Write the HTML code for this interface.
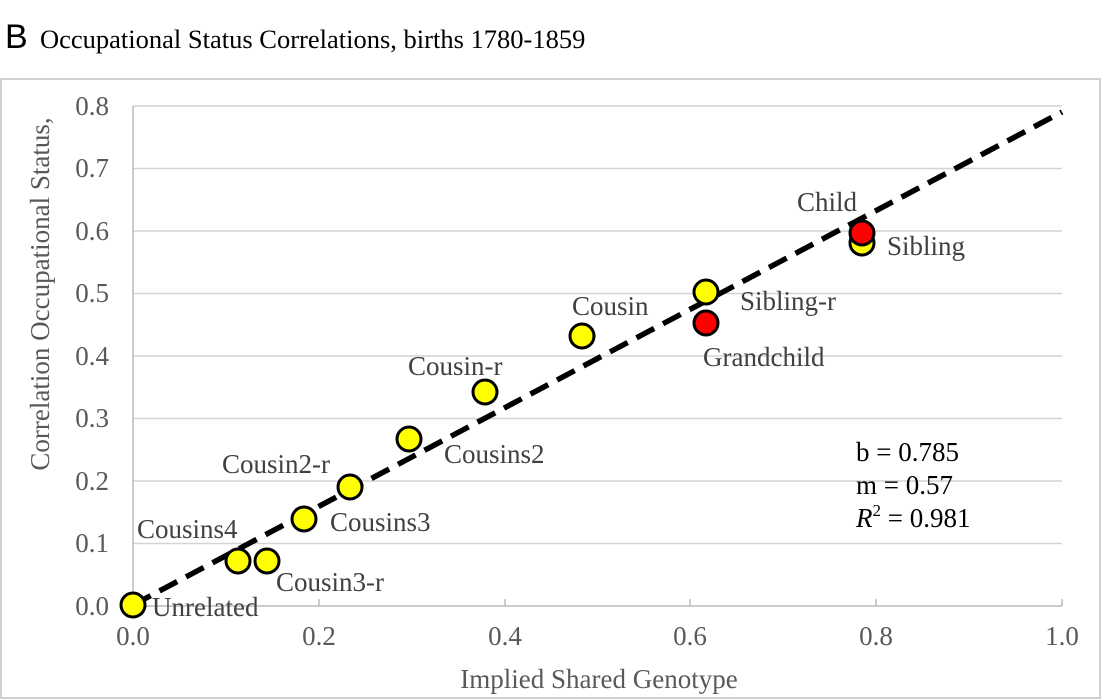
<!DOCTYPE html>
<html><head><meta charset="utf-8"><style>
body{margin:0;background:#fff;}
svg{display:block}
</style></head><body>
<svg width="1104" height="700" xmlns="http://www.w3.org/2000/svg">
<rect width="1104" height="700" fill="#fff"/>
<text x="5" y="48" font-family="Liberation Sans, sans-serif" font-size="34" fill="#000">B</text>
<text x="40" y="48" font-family="Liberation Serif, serif" font-size="26.5" fill="#000">Occupational Status Correlations, births 1780-1859</text>
<rect x="1" y="79" width="1099" height="619" fill="none" stroke="#d0d0d0" stroke-width="2"/>
<g stroke="#d4d4d4" stroke-width="1.5">
<line x1="133" y1="106" x2="1062" y2="106"/>
<line x1="133" y1="168.5" x2="1062" y2="168.5"/>
<line x1="133" y1="231" x2="1062" y2="231"/>
<line x1="133" y1="293.5" x2="1062" y2="293.5"/>
<line x1="133" y1="356" x2="1062" y2="356"/>
<line x1="133" y1="418.5" x2="1062" y2="418.5"/>
<line x1="133" y1="481" x2="1062" y2="481"/>
<line x1="133" y1="543.5" x2="1062" y2="543.5"/>
</g>
<g stroke="#bbb" stroke-width="1.5">
<line x1="133" y1="106" x2="133" y2="606"/>
<line x1="133" y1="606" x2="1062" y2="606"/>
<line x1="319" y1="606" x2="319" y2="599"/>
<line x1="505" y1="606" x2="505" y2="599"/>
<line x1="690" y1="606" x2="690" y2="599"/>
<line x1="876" y1="606" x2="876" y2="599"/>
<line x1="1062" y1="606" x2="1062" y2="599"/>
</g>
<g font-family="Liberation Serif, serif" font-size="27" fill="#595959" text-anchor="end">
<text x="109" y="115">0.8</text><text x="109" y="177">0.7</text><text x="109" y="240">0.6</text>
<text x="109" y="302">0.5</text><text x="109" y="365">0.4</text><text x="109" y="427">0.3</text>
<text x="109" y="490">0.2</text><text x="109" y="552">0.1</text><text x="109" y="615">0.0</text>
</g>
<g font-family="Liberation Serif, serif" font-size="27" fill="#595959" text-anchor="middle">
<text x="133" y="645">0.0</text><text x="319" y="645">0.2</text><text x="505" y="645">0.4</text>
<text x="690" y="645">0.6</text><text x="876" y="645">0.8</text><text x="1062" y="645">1.0</text>
<text x="599" y="688">Implied Shared Genotype</text>
<text transform="translate(49,294) rotate(-90)">Correlation Occupational Status,</text>
</g>
<line x1="133" y1="605" x2="1062" y2="112" stroke="#000" stroke-width="5.5" stroke-dasharray="20,10"/>
<g stroke="#000" stroke-width="3">
<circle cx="133" cy="605" r="12" fill="#ffff00"/>
<circle cx="238" cy="561" r="12" fill="#ffff00"/>
<circle cx="267" cy="561" r="12" fill="#ffff00"/>
<circle cx="304" cy="519" r="12" fill="#ffff00"/>
<circle cx="350" cy="487" r="12" fill="#ffff00"/>
<circle cx="409" cy="439" r="12" fill="#ffff00"/>
<circle cx="485" cy="392" r="12" fill="#ffff00"/>
<circle cx="582" cy="336" r="12" fill="#ffff00"/>
<circle cx="706" cy="292" r="12" fill="#ffff00"/>
<circle cx="706" cy="323" r="12" fill="#ff0000"/>
<circle cx="862" cy="243" r="12" fill="#ffff00"/>
<circle cx="862" cy="233" r="12" fill="#ff0000"/>
</g>
<g font-family="Liberation Serif, serif" font-size="27" fill="#404040">
<text x="152" y="616">Unrelated</text>
<text x="137" y="538">Cousins4</text>
<text x="276" y="591">Cousin3-r</text>
<text x="330" y="531">Cousins3</text>
<text x="222" y="473">Cousin2-r</text>
<text x="444" y="463">Cousins2</text>
<text x="408" y="375">Cousin-r</text>
<text x="572" y="315">Cousin</text>
<text x="740" y="310">Sibling-r</text>
<text x="703" y="366">Grandchild</text>
<text x="797" y="211">Child</text>
<text x="887" y="255">Sibling</text>
</g>
<g font-family="Liberation Serif, serif" font-size="27" fill="#000">
<text x="856" y="461">b = 0.785</text>
<text x="856" y="494">m = 0.57</text>
<text x="856" y="527"><tspan font-style="italic">R</tspan><tspan font-size="17" dy="-11">2</tspan><tspan dy="11"> = 0.981</tspan></text>
</g>
</svg>
</body></html>
